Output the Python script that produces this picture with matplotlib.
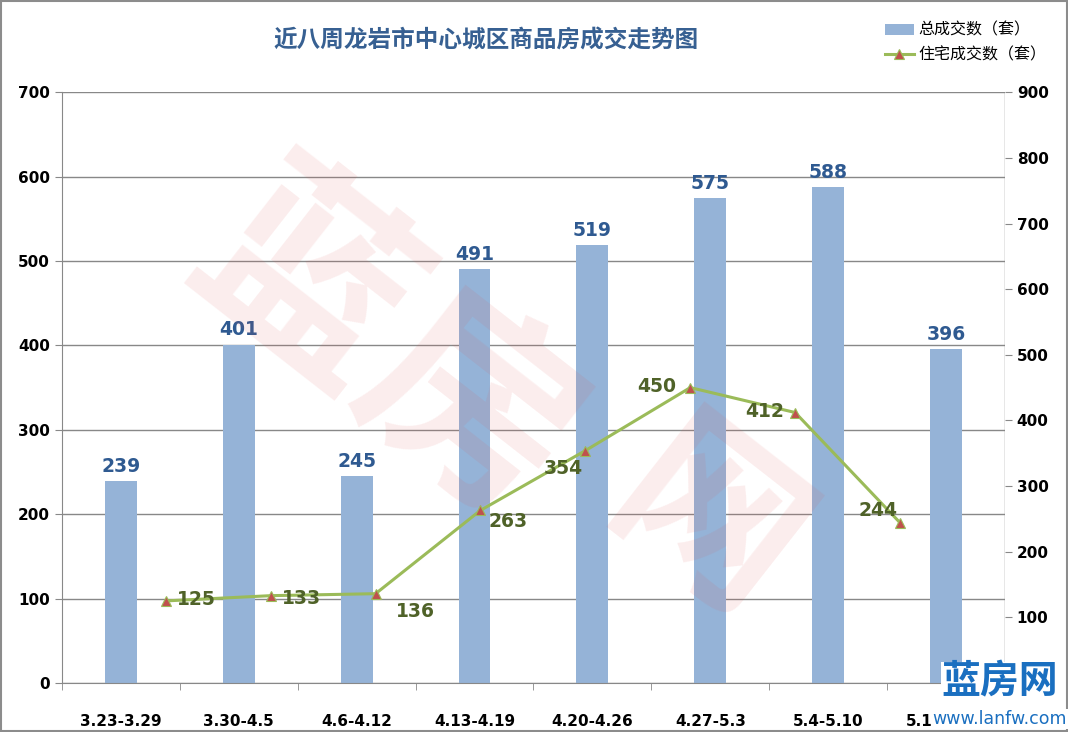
import numpy as np
import matplotlib.pyplot as plt
from matplotlib.patches import Rectangle

plt.rcParams['font.family'] = ['Noto Sans CJK SC', 'DejaVu Sans']

# 数据
weeks = ['3.23-3.29', '3.30-4.5', '4.6-4.12', '4.13-4.19',
         '4.20-4.26', '4.27-5.3', '5.4-5.10', '5.11-5.17']
total_deals = [239, 401, 245, 491, 519, 575, 588, 396]
house_deals = [125, 133, 136, 263, 354, 450, 412, 244]

bar_color = '#95b3d7'
line_color = '#9bbb59'
marker_color = '#c0504d'
title_color = '#376092'
line_label_color = '#4f6228'

fig = plt.figure(figsize=(10.68, 7.32), dpi=100)
fig.patches.append(Rectangle((0.001, 0.001), 0.998, 0.998, transform=fig.transFigure,
                             fill=False, edgecolor='#8c8c8c', linewidth=1.5))

rect = [0.058, 0.067, 0.883, 0.807]
ax = fig.add_axes(rect)

# 水印
fig.text(0.36, 0.52, '蓝房', fontsize=150, color='#e05050', alpha=0.10,
         rotation=-38, ha='center', va='center', fontweight='bold', zorder=0)
fig.text(0.66, 0.28, '网', fontsize=130, color='#e05050', alpha=0.10,
         rotation=-38, ha='center', va='center', fontweight='bold', zorder=0)

x = np.arange(len(weeks))
bars = ax.bar(x, total_deals, width=0.27, color=bar_color, zorder=2)
for xi, v in zip(x, total_deals):
    ax.text(xi, v + 6, str(v), ha='center', va='bottom', fontsize=13.5,
            fontweight='bold', color='#2f5a91', family='DejaVu Sans')

ax.set_xlim(-0.5, len(weeks) - 0.5)
ax.set_ylim(0, 700)
ax.set_yticks(range(0, 701, 100))
ax.set_xticks(x)
ax.set_xticklabels(weeks, fontsize=11, fontweight='bold', family='DejaVu Sans')
ax.set_xticks(np.arange(-0.5, len(weeks), 1), minor=True)
ax.tick_params(axis='x', which='major', length=0, pad=22)
ax.tick_params(axis='x', which='minor', length=5, color='#888888')
ax.tick_params(axis='y', length=5, color='#888888', labelsize=11)
for lab in ax.get_yticklabels():
    lab.set_fontweight('bold')
    lab.set_family('DejaVu Sans')
ax.grid(axis='y', color='#888888', linewidth=1, zorder=1)
ax.set_axisbelow(True)
for s in ['top', 'right']:
    ax.spines[s].set_visible(False)
ax.spines['left'].set_color('#888888')
ax.spines['bottom'].set_color('#888888')
ax.patch.set_alpha(0)

# 次坐标轴（住宅）
ax2 = fig.add_axes(rect, frameon=False)
ax2.set_xlim(-0.99, 8.0)
ax2.set_ylim(0, 900)
ax2.set_yticks(range(0, 901, 100))
ax2.xaxis.set_visible(False)
ax2.yaxis.tick_right()
ax2.tick_params(axis='y', length=5, color='#888888', labelsize=11)
for lab in ax2.get_yticklabels():
    lab.set_fontweight('bold')
    lab.set_family('DejaVu Sans')
ax2.axvline(8.0, color='#888888', linewidth=1)

line, = ax2.plot(x, house_deals, color=line_color, linewidth=2.2, marker='^',
                 markersize=7, markerfacecolor=marker_color,
                 markeredgecolor=line_color, markeredgewidth=0.8, zorder=3)
offsets = [(8, 1), (8, -2), (15, -13), (6, -8), (-30, -13), (-38, 1), (-36, 1), (-30, 9)]
for xi, v, off in zip(x, house_deals, offsets):
    ax2.annotate(str(v), (xi, v), xytext=off, textcoords='offset points',
                 ha='left', va='center', fontsize=13.5, fontweight='bold',
                 color=line_label_color, family='DejaVu Sans')

fig.text(0.455, 0.945, '近八周龙岩市中心城区商品房成交走势图', ha='center', va='center',
         fontsize=17, fontweight='bold', color=title_color)

fig.legend([bars, line], ['总成交数（套）', '住宅成交数（套）'],
           loc='upper left', bbox_to_anchor=(0.815, 0.99), frameon=False,
           fontsize=11.5, handlelength=1.8, handletextpad=0.3, labelspacing=0.5)

# 角标
fig.text(0.936, 0.068, '蓝房网', ha='center', va='center', fontsize=28,
         fontweight='bold', color='#1a6fc0', zorder=10,
         bbox=dict(facecolor='white', edgecolor='none', pad=0.5))
fig.text(0.936, 0.018, 'www.lanfw.com', ha='center', va='center', fontsize=12.5,
         color='#1a6fc0', family='DejaVu Sans', zorder=10,
         bbox=dict(facecolor='white', edgecolor='none', pad=0.5))

fig.savefig('out.png', dpi=100)
